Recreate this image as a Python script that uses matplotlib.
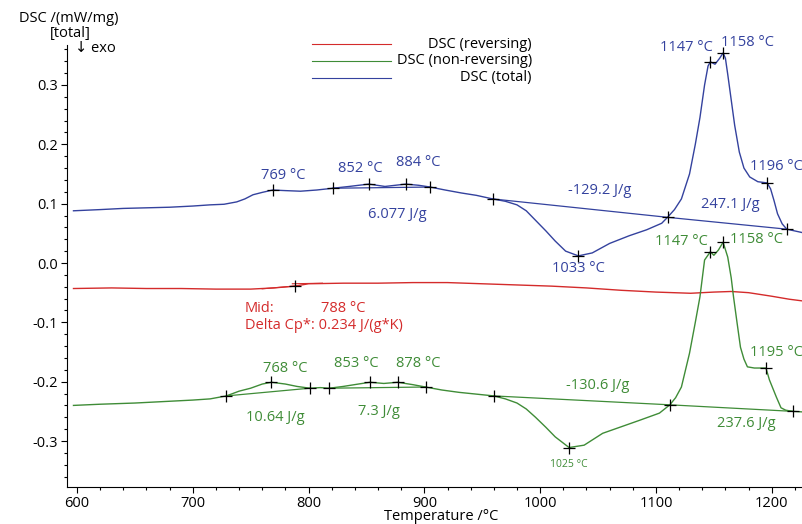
import numpy as np
import matplotlib
matplotlib.use("Agg")
import matplotlib.pyplot as plt
from matplotlib.lines import Line2D
from matplotlib.ticker import MultipleLocator, FormatStrFormatter

plt.rcParams['font.family'] = ['Open Sans', 'DejaVu Sans']
plt.rcParams['axes.unicode_minus'] = False

# colours
BLUE = "#34429e"
GREEN = "#3f8c37"
RED = "#d42b2b"

# DSC (total)
t_total = [597, 620, 640, 660, 680, 700, 715, 727, 738, 745, 752, 760, 769, 780, 793,
           807, 821, 835, 852, 866, 884, 895, 905, 918, 932, 945, 959, 970, 980, 988,
           996, 1005, 1013, 1022, 1033, 1045, 1060, 1077, 1092, 1105, 1110, 1116, 1122,
           1129, 1134, 1138, 1142, 1145, 1147, 1151, 1155, 1158, 1160, 1162, 1165, 1168,
           1172, 1176, 1181, 1188, 1196, 1199, 1202, 1205, 1209, 1213, 1220, 1227]
dsc_total = [0.088, 0.090, 0.092, 0.093, 0.094, 0.096, 0.098, 0.099, 0.103, 0.108, 0.115,
             0.119, 0.123, 0.122, 0.121, 0.123, 0.126, 0.129, 0.133, 0.129, 0.133, 0.131,
             0.128, 0.123, 0.118, 0.114, 0.108, 0.104, 0.098, 0.088, 0.072, 0.054, 0.037,
             0.020, 0.012, 0.017, 0.033, 0.046, 0.056, 0.067, 0.077, 0.090, 0.108, 0.150,
             0.200, 0.245, 0.300, 0.332, 0.339, 0.335, 0.345, 0.354, 0.345, 0.318, 0.275,
             0.232, 0.187, 0.160, 0.145, 0.137, 0.135, 0.125, 0.105, 0.083, 0.066, 0.057,
             0.054, 0.051]

# DSC (reversing)
t_rev = [597, 630, 660, 690, 720, 750, 770, 788, 800, 830, 860, 890, 920, 950, 980,
         1010, 1040, 1070, 1100, 1130, 1150, 1165, 1180, 1200, 1215, 1227]
dsc_rev = [-0.043, -0.042, -0.043, -0.043, -0.044, -0.044, -0.042, -0.039, -0.035, -0.034,
           -0.034, -0.033, -0.033, -0.035, -0.037, -0.039, -0.042, -0.046, -0.049, -0.051,
           -0.049, -0.048, -0.050, -0.056, -0.061, -0.064]

# DSC (non-reversing)
t_nonrev = [597, 620, 650, 680, 700, 715, 729, 740, 750, 760, 768, 780, 790, 801, 810,
            818, 830, 843, 853, 865, 877, 890, 901, 915, 930, 945, 960, 970, 980, 988,
            996, 1005, 1013, 1025, 1038, 1054, 1070, 1086, 1103, 1112, 1117, 1122, 1129,
            1134, 1138, 1142, 1147, 1150, 1154, 1158, 1162, 1165, 1167, 1170, 1173, 1176,
            1179, 1185, 1195, 1198, 1204, 1208, 1212, 1218, 1227]
dsc_nonrev = [-0.240, -0.238, -0.236, -0.233, -0.231, -0.229, -0.224, -0.216, -0.211,
              -0.204, -0.201, -0.204, -0.208, -0.211, -0.210, -0.211, -0.208, -0.204,
              -0.201, -0.203, -0.201, -0.205, -0.209, -0.214, -0.218, -0.221, -0.224,
              -0.229, -0.236, -0.246, -0.260, -0.277, -0.293, -0.311, -0.307, -0.287,
              -0.276, -0.265, -0.253, -0.239, -0.227, -0.209, -0.152, -0.100, -0.057,
              0.005, 0.019, 0.013, 0.022, 0.035, 0.010, -0.025, -0.057, -0.100, -0.142,
              -0.162, -0.175, -0.177, -0.177, -0.197, -0.226, -0.244, -0.248, -0.250,
              -0.251]

# evaluation points (°C)
total_marks = [769, 821, 852, 884, 905, 959, 1033, 1110, 1147, 1158, 1196, 1213]
nonrev_marks = [729, 768, 801, 818, 853, 877, 901, 960, 1025, 1112, 1147, 1158, 1195, 1218]
rev_marks = [788]

# integration limits (°C)
total_small_base = [821, 905]
total_big_base = [959, 1110, 1213]
nonrev_bases = [[729, 801], [818, 901]]
nonrev_big_base = [960, 1112, 1218]

# glass transition tangents on the reversing curve
rev_tangent_low = ([760, 790], [-0.0435, -0.0385])
rev_tangent_high = ([786, 812], [-0.035, -0.034])

W, H = 803, 524
fig = plt.figure(figsize=(W / 100, H / 100), dpi=100)
ax = fig.add_axes([67 / W, 1 - 487 / H, (W - 67) / W, (487 - 45) / H])

lw = 1.0
ax.plot(t_rev, dsc_rev, color=RED, lw=lw)
ax.plot(t_nonrev, dsc_nonrev, color=GREEN, lw=lw)
ax.plot(t_total, dsc_total, color=BLUE, lw=lw)

# baselines
def base(t, y, pts, c):
    ax.plot(pts, np.interp(pts, t, y), color=c, lw=0.9)

base(t_total, dsc_total, total_small_base, BLUE)
base(t_total, dsc_total, total_big_base, BLUE)
for b in nonrev_bases:
    base(t_nonrev, dsc_nonrev, b, GREEN)
base(t_nonrev, dsc_nonrev, nonrev_big_base, GREEN)

ax.plot(*rev_tangent_low, color=RED, lw=0.8)
ax.plot(*rev_tangent_high, color=RED, lw=0.8)

mk = dict(marker='+', color='black', ms=8, mew=0.9, ls='none', zorder=5)
ax.plot(total_marks, np.interp(total_marks, t_total, dsc_total), **mk)
ax.plot(nonrev_marks, np.interp(nonrev_marks, t_nonrev, dsc_nonrev), **mk)
ax.plot(rev_marks, np.interp(rev_marks, t_rev, dsc_rev), **mk)

fs = 10.5
kw = dict(ha='center', va='center', fontsize=fs, clip_on=False)
for s, x, y in [("769 °C", 778, 0.148), ("852 °C", 845, 0.160), ("884 °C", 895, 0.170),
                ("6.077 J/g", 877, 0.081), ("-129.2 J/g", 1051, 0.123),
                ("247.1 J/g", 1164, 0.098), ("1033 °C", 1033, -0.010),
                ("1147 °C", 1126, 0.364), ("1158 °C", 1179, 0.372),
                ("1196 °C", 1204, 0.163)]:
    ax.text(x, y, s, color=BLUE, **kw)
for s, x, y in [("1147 °C", 1122, 0.037), ("1158 °C", 1187, 0.039),
                ("768 °C", 780, -0.177), ("853 °C", 841, -0.169), ("878 °C", 895, -0.169),
                ("7.3 J/g", 861, -0.251), ("10.64 J/g", 771, -0.261),
                ("-130.6 J/g", 1050, -0.206), ("237.6 J/g", 1178, -0.271),
                ("1195 °C", 1204, -0.150)]:
    ax.text(x, y, s, color=GREEN, **kw)
ax.text(1025, -0.339, "1025 °C", color=GREEN, ha='center', va='center', fontsize=7.5)

ax.text(745, -0.076, "Mid:", color=RED, ha='left', va='center', fontsize=fs)
ax.text(811, -0.076, "788 °C", color=RED, ha='left', va='center', fontsize=fs)
ax.text(745, -0.106, "Delta Cp*: 0.234 J/(g*K)", color=RED, ha='left', va='center', fontsize=fs)

# axes styling
ax.set_xlim(591.4, 1227)
ax.set_ylim(-0.3775, 0.3674)
ax.spines['top'].set_visible(False)
ax.spines['right'].set_visible(False)
ax.xaxis.set_major_locator(MultipleLocator(100))
ax.xaxis.set_minor_locator(MultipleLocator(20))
ax.yaxis.set_major_locator(MultipleLocator(0.1))
ax.yaxis.set_minor_locator(MultipleLocator(0.02))
ax.tick_params(which='major', length=4, width=0.8, labelsize=fs, pad=2.5)
ax.tick_params(which='minor', length=2.5, width=0.8)
ax.yaxis.set_major_formatter(FormatStrFormatter('%.1f'))

fig.text(441 / W, 1 - 517 / H, "Temperature /°C", ha='center', va='center', fontsize=fs)
fig.text(69 / W, 1 - 18 / H, "DSC /(mW/mg)", ha='center', va='center', fontsize=fs)
fig.text(70 / W, 1 - 33 / H, "[total]", ha='center', va='center', fontsize=fs)
fig.text(75 / W, 1 - 48 / H, "↓ exo", ha='left', va='center', fontsize=fs)

# legend
for i, (lab, c) in enumerate([("DSC (reversing)", RED), ("DSC (non-reversing)", GREEN),
                              ("DSC (total)", BLUE)]):
    yy = 1 - (44 + 17 * i) / H
    fig.add_artist(Line2D([312 / W, 391 / W], [yy, yy], color=c, lw=0.8))
    fig.text(532 / W, yy, lab, ha='right', va='center', fontsize=fs)

fig.savefig("out.png", dpi=100)
